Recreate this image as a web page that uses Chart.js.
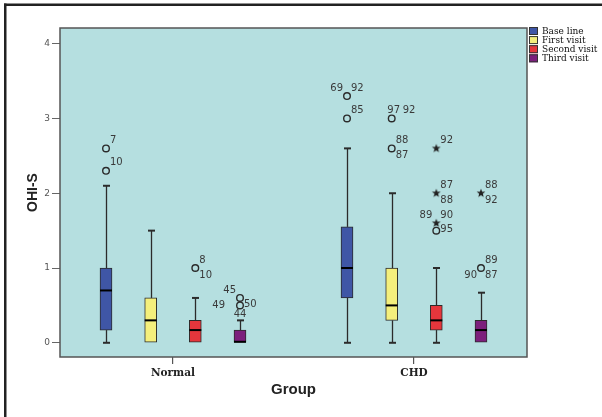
<!DOCTYPE html>
<html>
<head>
<meta charset="utf-8">
<script src="https://cdn.jsdelivr.net/npm/chart.js@4.4.1/dist/chart.umd.min.js"></script>
<style>
  html, body { margin: 0; padding: 0; background: #ffffff; }
  canvas { display: block; }
</style>
</head>
<body>
<canvas id="c" width="602" height="417"></canvas>
<script>
// ---- data ----
const groups = ['Normal', 'CHD'];
const seriesNames = ['Base line', 'First visit', 'Second visit', 'Third visit'];
const yTicks = [0, 1, 2, 3, 4];
// values per series: [Normal, CHD]
const whiskerMin = [[0, 0], [0, 0], [0, 0], [0, 0]];
const q1Values = [[0.17, 0.6], [0, 0.3], [0, 0.17], [0, 0]];
const medianValues = [[0.7, 1.0], [0.3, 0.5], [0.17, 0.3], [0, 0.17]];
const q3Values = [[1.0, 1.55], [0.6, 1.0], [0.3, 0.5], [0.17, 0.3]];
const whiskerMax = [[2.1, 2.6], [1.5, 2.0], [0.6, 1.0], [0.3, 0.67]];
// outliers: [series, group, value, marker, case labels]
const outliers = [
  [0, 0, 2.6, 'o', ['7']],
  [0, 0, 2.3, 'o', ['10']],
  [2, 0, 1.0, 'o', ['8', '10']],
  [3, 0, 0.6, 'o', ['45']],
  [3, 0, 0.5, 'o', ['49', '50', '44']],
  [0, 1, 3.3, 'o', ['69', '92']],
  [0, 1, 3.0, 'o', ['85']],
  [1, 1, 3.0, 'o', ['97', '92']],
  [1, 1, 2.6, 'o', ['88', '87']],
  [2, 1, 2.6, '*', ['92']],
  [2, 1, 2.0, '*', ['87', '88']],
  [2, 1, 1.6, '*', ['89', '90']],
  [2, 1, 1.5, 'o', ['95']],
  [3, 1, 2.0, '*', ['88', '92']],
  [3, 1, 1.0, 'o', ['89', '90', '87']]
];

// ---- styling / layout (not data) ----
const boxColors = ['#3f56a6', '#f4ef7c', '#e5363c', '#7c1f7c'];
const boxOffsets = [-0.278, -0.0925, 0.0925, 0.278];
const labelPlacement = [
  ['ne'], ['ne'], ['ne', 'se'], ['nw'], ['w', 'e', 's'],
  ['nw', 'ne'], ['ne'], ['n', 'ne2'], ['ne', 'se'],
  ['ne'], ['ne', 'se'], ['nw', 'ne'], ['e'], ['ne', 'se'], ['ne', 'sw', 'se']
];
const boxPx = 12, capPx = 7;

function xPos(si, gi) { return gi + 1 + boxOffsets[si]; }

function makeStar(r) {
  const s = Math.ceil(r * 2 + 2);
  const c = document.createElement('canvas');
  c.width = s; c.height = s;
  const g = c.getContext('2d');
  g.fillStyle = '#222';
  g.beginPath();
  for (let i = 0; i < 10; i++) {
    const a = -Math.PI / 2 + i * Math.PI / 5;
    const rr = (i % 2) ? r * 0.42 : r;
    g.lineTo(s / 2 + rr * Math.cos(a), s / 2 + rr * Math.sin(a));
  }
  g.closePath();
  g.fill();
  return c;
}
const starImg = makeStar(4.6);

const barDatasets = seriesNames.map((name, si) => ({
  type: 'bar',
  label: name,
  data: groups.map((g, gi) => ({ x: xPos(si, gi), y: [q1Values[si][gi], q3Values[si][gi]] })),
  backgroundColor: boxColors[si],
  borderColor: '#2b2b2b',
  borderWidth: 1,
  borderSkipped: false,
  barThickness: boxPx,
  grouped: false,
  order: 2
}));

const circleData = outliers.filter(o => o[3] === 'o').map(o => ({ x: xPos(o[0], o[1]), y: o[2] }));
const starData = outliers.filter(o => o[3] === '*').map(o => ({ x: xPos(o[0], o[1]), y: o[2] }));

const outlierDatasets = [
  { type: 'scatter', label: 'outlier', data: circleData, pointStyle: 'circle', pointRadius: 3.3,
    borderColor: '#2a2a2a', borderWidth: 1.4, backgroundColor: 'rgba(0,0,0,0)', order: 1 },
  { type: 'scatter', label: 'extreme', data: starData, pointStyle: starImg, pointRadius: 4.6,
    borderColor: '#222', backgroundColor: '#222', order: 1 }
];

const boxPlugin = {
  id: 'boxPlugin',
  beforeDraw(chart) {
    const ctx = chart.ctx, a = chart.chartArea;
    ctx.save();
    ctx.fillStyle = '#ffffff';
    ctx.fillRect(0, 0, chart.width, chart.height);
    // outer frame
    ctx.fillStyle = '#222';
    ctx.fillRect(4, 3.5, chart.width - 4, 2.5);
    ctx.fillRect(4, 3.5, 2.5, chart.height - 3.5);
    // plot background
    ctx.fillStyle = '#b5dfe0';
    ctx.fillRect(a.left, a.top, a.right - a.left, a.bottom - a.top);
    ctx.restore();
  },
  beforeDatasetsDraw(chart) {
    const ctx = chart.ctx, xs = chart.scales.x, ys = chart.scales.y;
    ctx.save();
    ctx.strokeStyle = '#2b2b2b';
    for (let si = 0; si < seriesNames.length; si++) {
      for (let gi = 0; gi < groups.length; gi++) {
        const px = Math.round(xs.getPixelForValue(xPos(si, gi))) + 0.5;
        const pairs = [[whiskerMax[si][gi], q3Values[si][gi]], [whiskerMin[si][gi], q1Values[si][gi]]];
        pairs.forEach(([end, edge]) => {
          if (end === edge) return;
          const pe = ys.getPixelForValue(end), pb = ys.getPixelForValue(edge);
          ctx.lineWidth = 1.3;
          ctx.beginPath(); ctx.moveTo(px, pe); ctx.lineTo(px, pb); ctx.stroke();
          ctx.lineWidth = 2;
          ctx.beginPath(); ctx.moveTo(px - capPx / 2, pe); ctx.lineTo(px + capPx / 2, pe); ctx.stroke();
        });
      }
    }
    ctx.restore();
  },
  afterDatasetsDraw(chart) {
    const ctx = chart.ctx, xs = chart.scales.x, ys = chart.scales.y;
    ctx.save();
    // medians
    ctx.strokeStyle = '#000';
    ctx.lineWidth = 2;
    for (let si = 0; si < seriesNames.length; si++) {
      for (let gi = 0; gi < groups.length; gi++) {
        const px = xs.getPixelForValue(xPos(si, gi));
        let py = ys.getPixelForValue(medianValues[si][gi]);
        if (medianValues[si][gi] === q1Values[si][gi]) py -= 1;
        ctx.beginPath(); ctx.moveTo(px - boxPx / 2, py); ctx.lineTo(px + boxPx / 2, py); ctx.stroke();
      }
    }
    // outlier case labels
    ctx.font = '10px "DejaVu Sans", sans-serif';
    ctx.fillStyle = '#3a3a3a';
    ctx.textBaseline = 'middle';
    outliers.forEach((o, i) => {
      const cx = xs.getPixelForValue(xPos(o[0], o[1]));
      const cy = ys.getPixelForValue(o[2]);
      o[4].forEach((t, j) => {
        const p = labelPlacement[i][j];
        let x = cx, y = cy, align = 'left';
        if (p === 'ne') { x = cx + 4; y = cy - 8; }
        else if (p === 'se') { x = cx + 4; y = cy + 7; }
        else if (p === 'nw') { x = cx - 4; y = cy - 8; align = 'right'; }
        else if (p === 'sw') { x = cx - 4; y = cy + 7; align = 'right'; }
        else if (p === 'e') { x = cx + 4; y = cy - 1; }
        else if (p === 'w') { x = cx - 15; y = cy; align = 'right'; }
        else if (p === 's') { x = cx; y = cy + 9; align = 'center'; }
        else if (p === 'n') { x = cx + 2; y = cy - 8; align = 'center'; }
        else if (p === 'ne2') { x = cx + 11; y = cy - 8; }
        ctx.textAlign = align;
        ctx.fillText(t, x, y);
      });
    });
    ctx.restore();
  },
  afterDraw(chart) {
    const ctx = chart.ctx, a = chart.chartArea;
    ctx.save();
    // plot border
    ctx.strokeStyle = '#555';
    ctx.lineWidth = 1.5;
    ctx.strokeRect(a.left, a.top, a.right - a.left, a.bottom - a.top);
    // legend
    ctx.font = '9px "DejaVu Serif", serif';
    ctx.textBaseline = 'middle';
    ctx.textAlign = 'left';
    seriesNames.forEach((name, i) => {
      const y0 = 27 + i * 9.1;
      ctx.fillStyle = boxColors[i];
      ctx.fillRect(a.right + 2, y0, 9, 8);
      ctx.strokeStyle = '#333';
      ctx.lineWidth = 1;
      ctx.strokeRect(a.right + 2.5, y0 + 0.5, 8, 7);
      ctx.fillStyle = '#111';
      ctx.fillText(name, a.right + 15, y0 + 4.5);
    });
    ctx.restore();
  }
};

new Chart(document.getElementById('c'), {
  type: 'bar',
  data: { datasets: barDatasets.concat(outlierDatasets) },
  options: {
    responsive: false,
    animation: false,
    devicePixelRatio: 1,
    layout: { padding: { top: 28, right: 75, bottom: 0, left: 0 } },
    plugins: { legend: { display: false }, tooltip: { enabled: false } },
    scales: {
      x: {
        type: 'linear',
        offset: false,
        min: 0.5311,
        max: 2.4689,
        afterBuildTicks: s => { s.ticks = groups.map((g, i) => ({ value: i + 1 })); },
        afterFit: s => { s.height = 60; },
        ticks: {
          callback: v => groups[v - 1],
          font: { family: '"DejaVu Serif", serif', size: 10.5, weight: 'bold' },
          color: '#222',
          padding: 3,
          maxRotation: 0,
          autoSkip: false
        },
        grid: { offset: false, drawOnChartArea: false, drawTicks: true, tickLength: 7, color: '#555', lineWidth: 1.2 },
        border: { display: false },
        title: {
          display: true, text: 'Group',
          font: { family: '"Liberation Sans", Arial, sans-serif', size: 15, weight: 'bold' },
          color: '#222', padding: { top: 0, bottom: 18 }
        }
      },
      y: {
        type: 'linear',
        min: -0.19,
        max: 4.21,
        afterBuildTicks: s => { s.ticks = yTicks.map(v => ({ value: v })); },
        afterFit: s => { s.width = 60; },
        ticks: {
          font: { family: '"DejaVu Sans", sans-serif', size: 9 },
          color: '#555',
          padding: 2
        },
        grid: { drawOnChartArea: false, drawTicks: true, tickLength: 8, color: '#666', lineWidth: 1 },
        border: { display: false },
        title: {
          display: true, text: 'OHI-S',
          font: { family: '"Liberation Sans", Arial, sans-serif', size: 14, weight: 'bold' },
          color: '#222', padding: { top: 25, bottom: 0 }
        }
      }
    }
  },
  plugins: [boxPlugin]
});
</script>
</body>
</html>
